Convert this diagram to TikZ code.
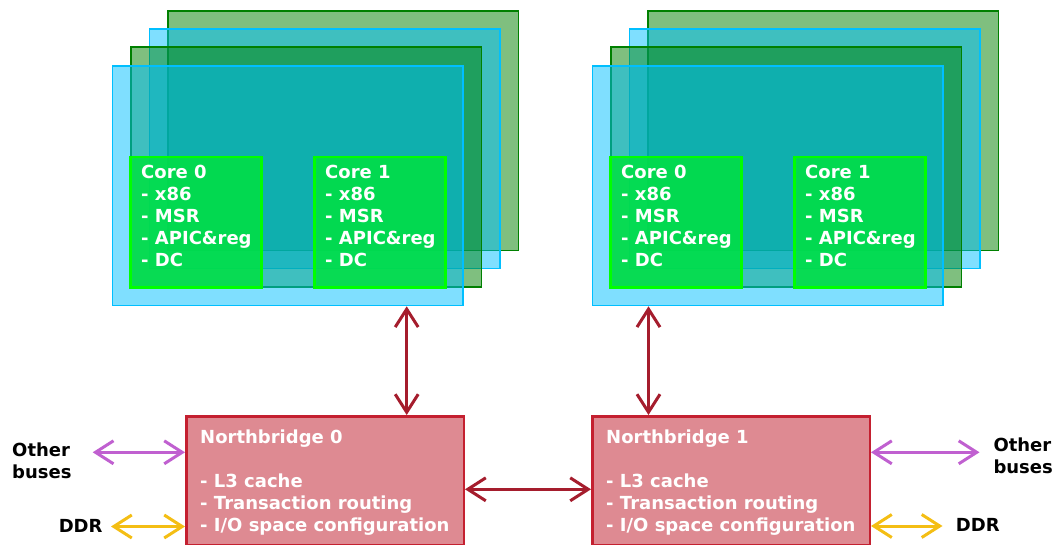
\documentclass[tikz,border=0pt]{standalone}
\usepackage{fontspec}
\setmainfont{DejaVu Sans}
\usetikzlibrary{arrows.meta}
\definecolor{layergreen}{RGB}{0,128,0}
\definecolor{layercyan}{RGB}{0,191,255}
\definecolor{corefill}{RGB}{0,224,68}
\definecolor{corestroke}{RGB}{0,255,0}
\definecolor{nbfill}{RGB}{222,138,146}
\definecolor{nbstroke}{RGB}{196,32,48}
\definecolor{linkred}{RGB}{165,29,45}
\definecolor{buspurple}{RGB}{192,96,208}
\definecolor{ddryellow}{RGB}{244,190,20}
\newcommand\mylines[1]{\begin{tabular}[t]{@{}l@{}}#1\end{tabular}}
\begin{document}
\begin{tikzpicture}[x=1pt,y=-1pt,
  layer/.style={anchor=north west, inner sep=0pt, minimum width=350.5pt, minimum height=239.5pt},
  greenlayer/.style={layer, draw=layergreen, line width=1.6pt, fill=layergreen, fill opacity=0.5},
  cyanlayer/.style={layer, draw=layercyan, line width=1.8pt, fill=layercyan, fill opacity=0.5},
  corebox/.style={anchor=north west, inner sep=0pt, minimum width=131pt, minimum height=130pt,
    draw=corestroke, line width=2.5pt, fill=corefill, fill opacity=0.88},
  nbbox/.style={anchor=north west, inner sep=0pt, minimum width=277.5pt, minimum height=129pt,
    draw=nbstroke, line width=2.5pt, fill=nbfill},
  txt/.style={inner sep=0pt, font=\bfseries\fontsize{18}{22}\selectfont},
  wtxt/.style={txt, text=white, anchor=base west},
  link/.style={line width=3pt, {Straight Barb[length=18pt,width=23pt]}-{Straight Barb[length=18pt,width=23pt]}},
  redlink/.style={link, draw=linkred},
  buslink/.style={link, draw=buspurple},
  ddrlink/.style={link, draw=ddryellow}
]
\useasboundingbox (0,0) rectangle (1056,545);

% left processor stack
\node[greenlayer] (bgL) at (167,10) {};
\node[cyanlayer]  (bcL) at (148.5,28) {};
\node[greenlayer] (fgL) at (130,46.5) {};
\node[cyanlayer]  (fcL) at (111.5,65) {};
\node[corebox] (c0L) at (129,156) {};
\node[corebox] (c1L) at (313,156) {};
\node[wtxt] (t0L) at (141,178.5) {\mylines{Core 0\\- x86\\- MSR\\- APIC\&reg\\- DC}};
\node[wtxt] (t1L) at (325,178.5) {\mylines{Core 1\\- x86\\- MSR\\- APIC\&reg\\- DC}};

% right processor stack
\node[greenlayer] (bgR) at (647,10) {};
\node[cyanlayer]  (bcR) at (628.5,28) {};
\node[greenlayer] (fgR) at (610,46.5) {};
\node[cyanlayer]  (fcR) at (591.5,65) {};
\node[corebox] (c0R) at (609,156) {};
\node[corebox] (c1R) at (793,156) {};
\node[wtxt] (t0R) at (621,178.5) {\mylines{Core 0\\- x86\\- MSR\\- APIC\&reg\\- DC}};
\node[wtxt] (t1R) at (805,178.5) {\mylines{Core 1\\- x86\\- MSR\\- APIC\&reg\\- DC}};

% northbridges
\node[nbbox] (nbL) at (185,415) {};
\node[nbbox] (nbR) at (591,415) {};
\node[wtxt] (nbtL) at (200,443.3) {\mylines{Northbridge 0\\ \\- L3 cache\\- Transaction routing\\- I/O space configuration}};
\node[wtxt] (nbtR) at (606,443.3) {\mylines{Northbridge 1\\ \\- L3 cache\\- Transaction routing\\- I/O space configuration}};

% side labels
\node[txt, anchor=base west] (obL) at (12,456) {\mylines{Other\\buses}};
\node[txt, anchor=base east] (ddrL) at (102.7,532.7) {DDR};
\node[txt, anchor=base west] (obR) at (993.3,451.7) {\mylines{Other\\buses}};
\node[txt, anchor=base west] (ddrR) at (955.7,531.7) {DDR};

% connector guides
\coordinate (vL) at (406.7,0);
\coordinate (vR) at (648.5,0);
\coordinate (hNB) at (0,489.3);
\coordinate (busLend) at (92.7,452.3);
\coordinate (ddrLend) at (111,526.5);
\coordinate (busRend) at (979.5,452.3);
\coordinate (ddrRend) at (942.5,526);

% connectors
\draw[redlink] (fcL.south -| vL) -- (nbL.north -| vL);
\draw[redlink] (fcR.south -| vR) -- (nbR.north -| vR);
\draw[redlink] (nbL.east |- hNB) -- (nbR.west |- hNB);
\draw[buslink] (busLend) -- (nbL.west |- busLend);
\draw[ddrlink] (ddrLend) -- (nbL.west |- ddrLend);
\draw[buslink] (nbR.east |- busRend) -- (busRend);
\draw[ddrlink] (nbR.east |- ddrRend) -- (ddrRend);
\end{tikzpicture}
\end{document}
